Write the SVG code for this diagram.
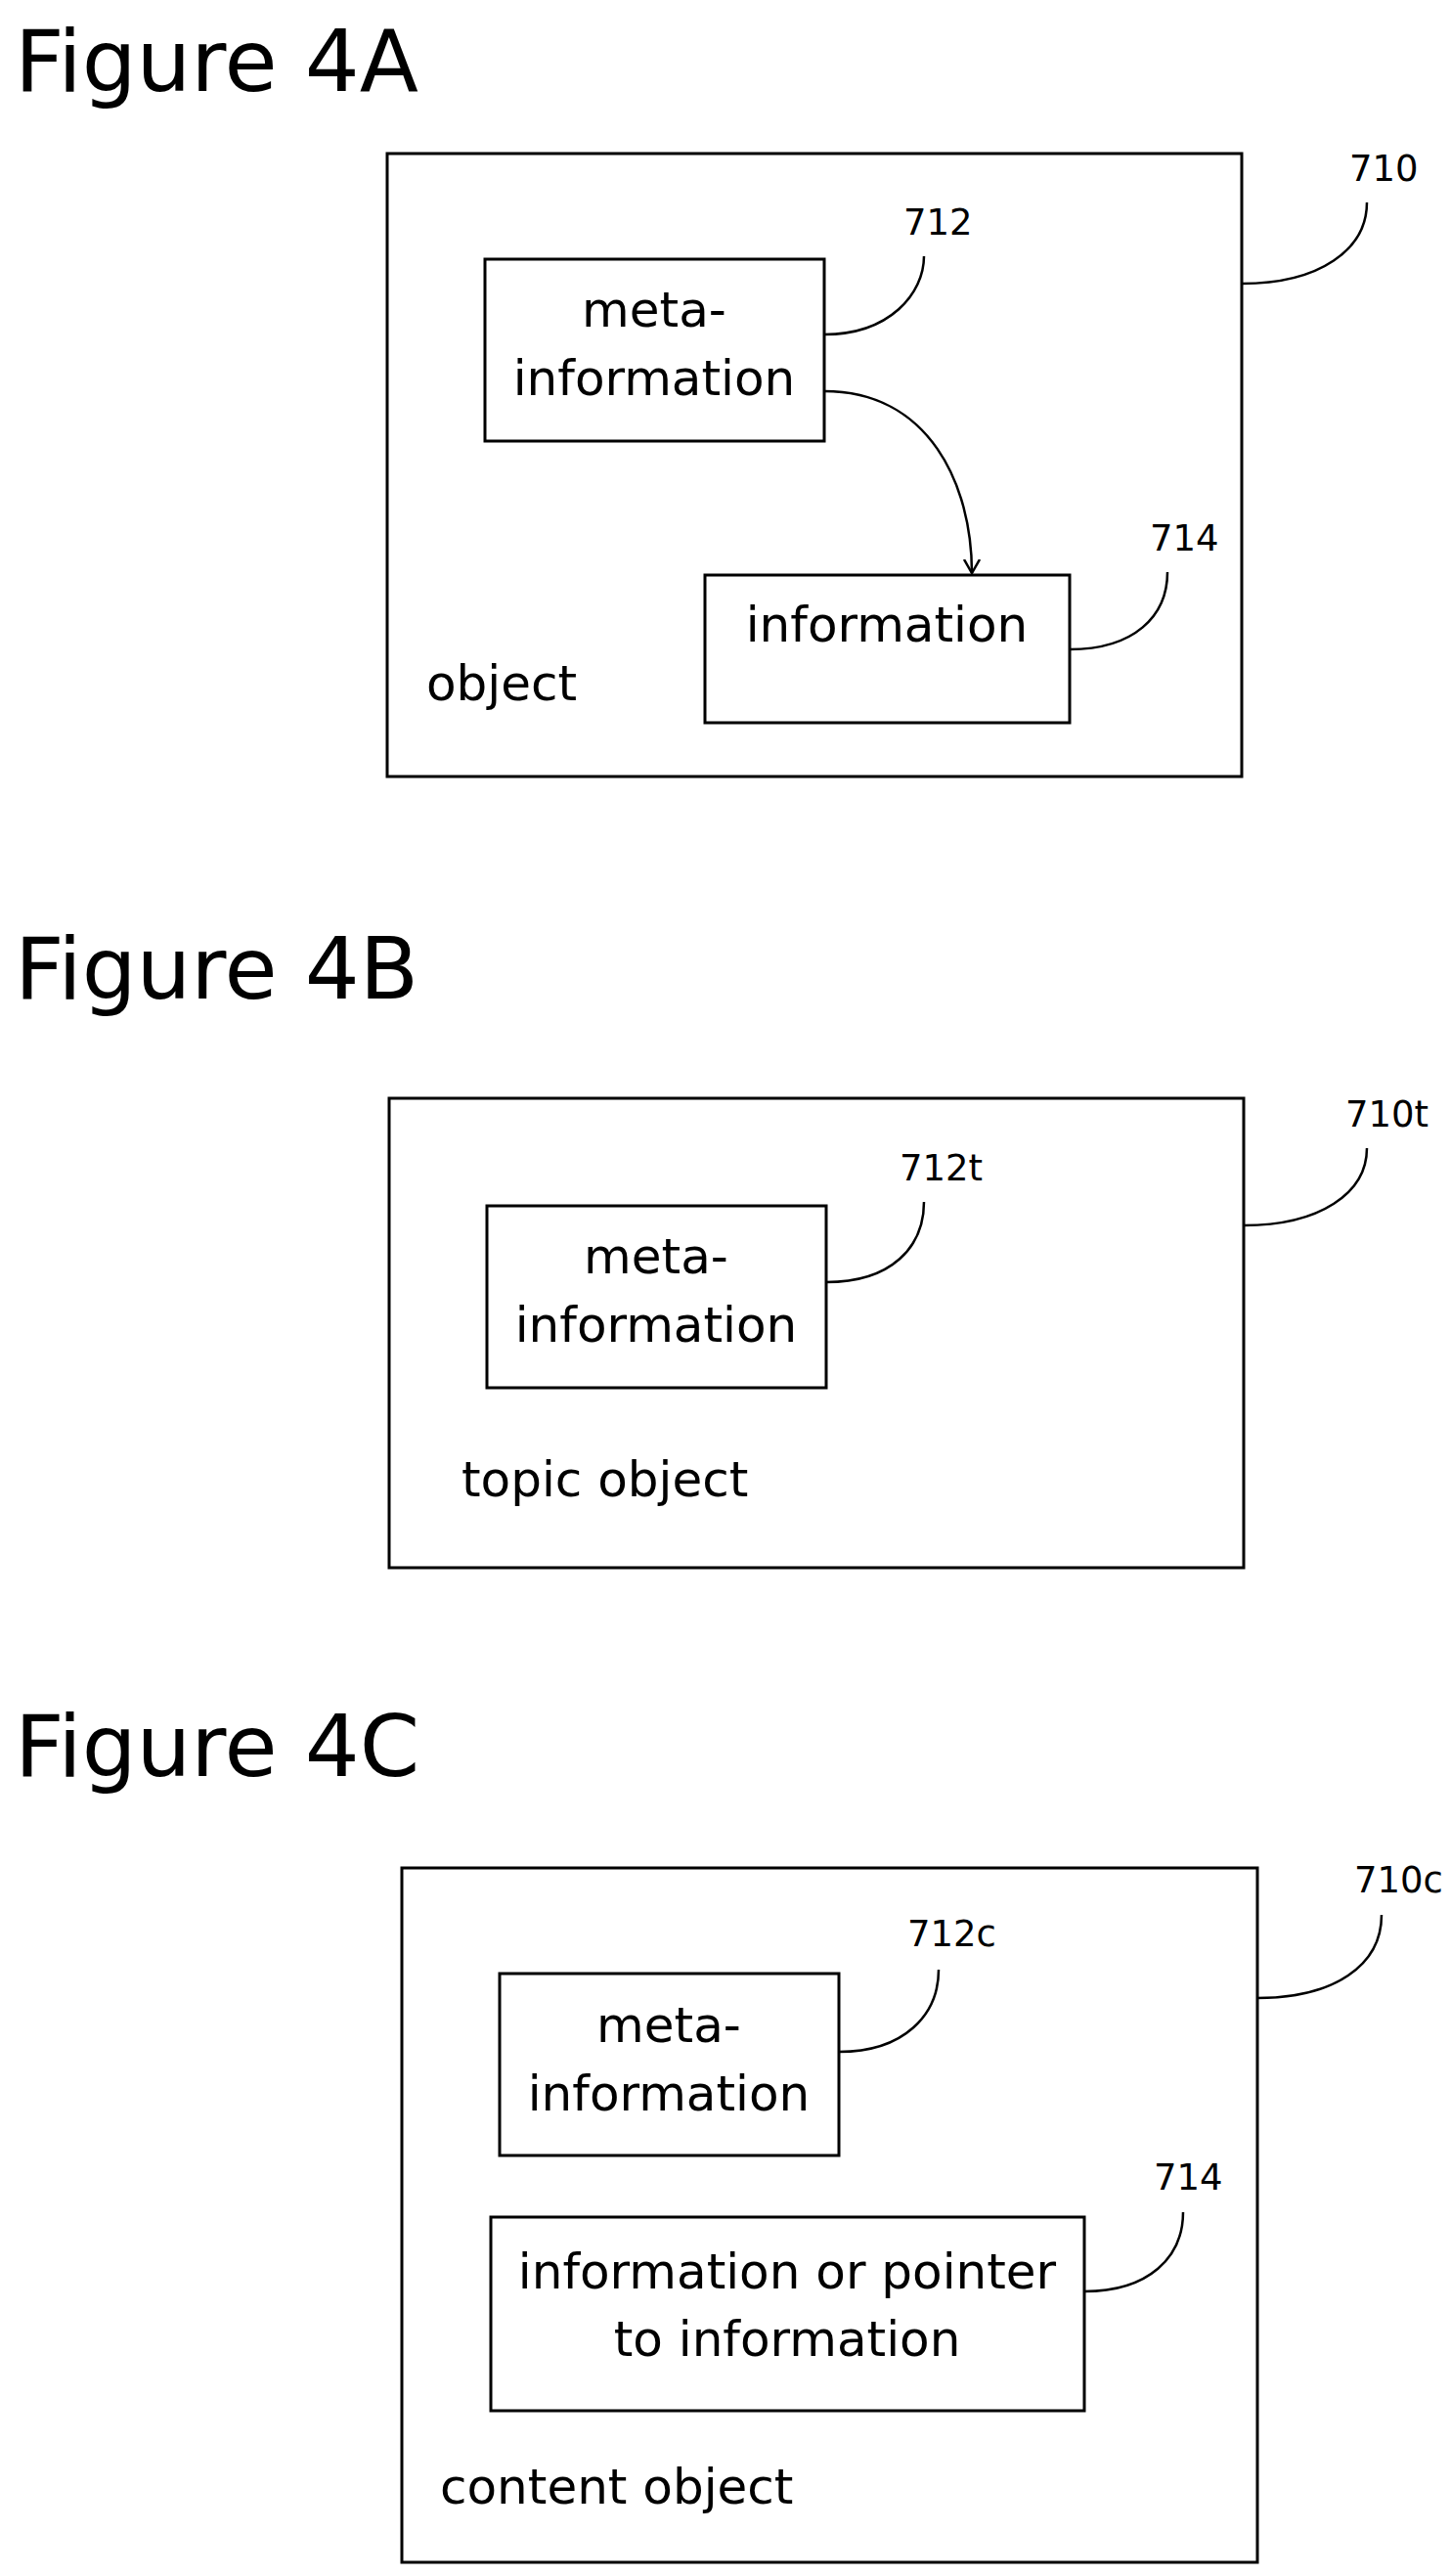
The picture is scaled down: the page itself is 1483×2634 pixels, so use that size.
<svg xmlns="http://www.w3.org/2000/svg" width="1483" height="2634" viewBox="0 0 1483 2634">
<style>
.box{fill:none;stroke:#000;stroke-width:3}
.ln{fill:none;stroke:#000;stroke-width:2.5}
.t{font-family:"DejaVu Sans",sans-serif;font-size:50px;fill:#000}
.m{text-anchor:middle}
.lab{font-family:"DejaVu Sans",sans-serif;font-size:37px;fill:#000}
.title{font-family:"DejaVu Sans",sans-serif;font-size:88px;fill:#000}
</style>
<defs>
<marker id="ah" markerWidth="18" markerHeight="18" refX="14" refY="9" orient="auto" markerUnits="userSpaceOnUse">
<path d="M0,1 L14,9 L0,17" fill="none" stroke="#000" stroke-width="2.5"/>
</marker>
</defs>
<rect width="1483" height="2634" fill="#fff"/>
<text class="title" x="15" y="93">Figure 4A</text>
<text class="title" x="15" y="1021">Figure 4B</text>
<text class="title" x="15" y="1816">Figure 4C</text>

<g id="n710"><rect class="box" x="396" y="157" width="874" height="637"/><text class="t" x="436" y="716">object</text><text class="lab" x="1380" y="185">710</text></g>
<g id="n712"><rect class="box" x="496" y="265" width="347" height="186"/><text class="t m" x="669" y="334">meta-</text><text class="t m" x="669" y="404">information</text><text class="lab" x="924" y="240">712</text></g>
<g id="n714a"><rect class="box" x="721" y="588" width="373" height="151"/><text class="t m" x="907" y="656">information</text><text class="lab" x="1176" y="563">714</text></g>

<g id="n710t"><rect class="box" x="398" y="1123" width="874" height="480"/><text class="t" x="472" y="1530">topic object</text><text class="lab" x="1376" y="1152">710t</text></g>
<g id="n712t"><rect class="box" x="498" y="1233" width="347" height="186"/><text class="t m" x="671" y="1302">meta-</text><text class="t m" x="671" y="1372">information</text><text class="lab" x="920" y="1207">712t</text></g>

<g id="n710c"><rect class="box" x="411" y="1910" width="875" height="710"/><text class="t" x="450" y="2560">content object</text><text class="lab" x="1385" y="1935">710c</text></g>
<g id="n712c"><rect class="box" x="511" y="2018" width="347" height="186"/><text class="t m" x="684" y="2088">meta-</text><text class="t m" x="684" y="2158">information</text><text class="lab" x="928" y="1990">712c</text></g>
<g id="n714c"><rect class="box" x="502" y="2267" width="607" height="198"/><text class="t m" x="805" y="2340">information or pointer</text><text class="t m" x="805" y="2409">to information</text><text class="lab" x="1180" y="2239">714</text></g>

<g id="connectors">
<path class="ln" d="M1270,290 C1350,290 1398,255 1398,207"/>
<path class="ln" d="M843,342 C910,342 945,300 945,262"/>
<path class="ln" d="M843,400 C950,400 994,495 994,586" marker-end="url(#ah)"/>
<path class="ln" d="M1094,664 C1160,664 1194,630 1194,585"/>
<path class="ln" d="M1272,1253 C1350,1253 1398,1220 1398,1174"/>
<path class="ln" d="M845,1311 C912,1311 945,1275 945,1229"/>
<path class="ln" d="M1286,2043 C1364,2043 1413,2010 1413,1958"/>
<path class="ln" d="M858,2098 C925,2098 960,2060 960,2014"/>
<path class="ln" d="M1109,2343 C1175,2343 1210,2308 1210,2262"/>
</g>
</svg>
